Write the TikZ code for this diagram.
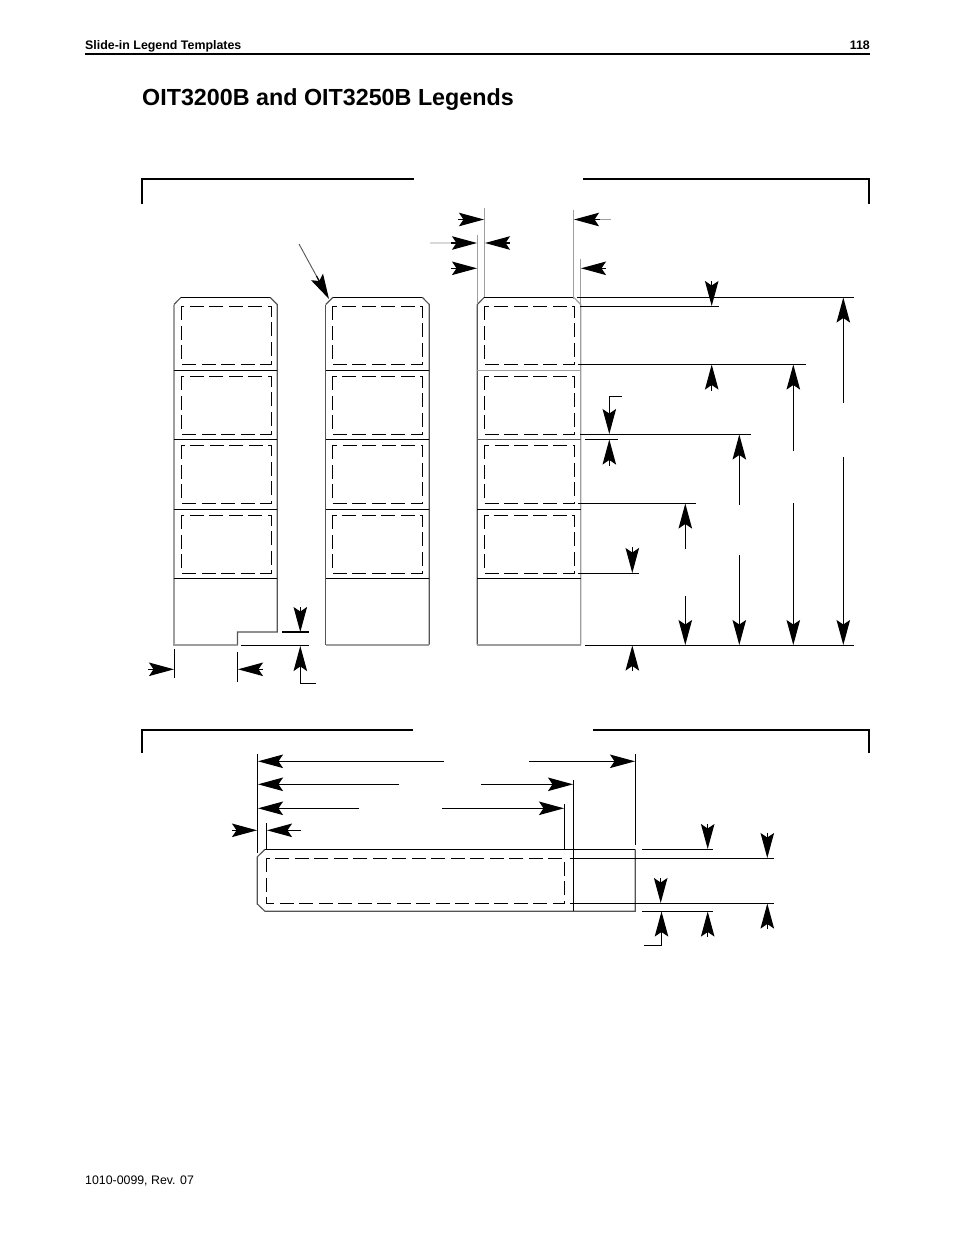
\documentclass[tikz,border=0pt]{standalone}
\usepackage{fontspec}
\setmainfont{Liberation Sans}
\usetikzlibrary{arrows.meta}
\definecolor{dk}{gray}{0.33}
\definecolor{md}{gray}{0.62}
\definecolor{lt}{gray}{0.85}
\tikzset{
  ln/.style={line width=1.15pt,black},
  ar/.style={ln,-{Stealth[length=25pt,width=13.5pt,inset=4.5pt]}},
  hd/.style={line width=2pt,black},
  br/.style={line width=2.2pt,black,line cap=rect},
  dsh/.style={line width=1.15pt,black,dash pattern=on 14pt off 5.5pt},
  edge/.style={line width=1.15pt,dk},
  edgel/.style={line width=1.6pt,md},
  ext/.style={line width=1.15pt,md},
  txt/.style={inner sep=0pt,anchor=base west,text=black}
}
\newcommand{\dashrects}[2]{%
  \foreach \t/\b in {306.3/364.3,376.3/434.3,445.3/503.5,515.3/573.3}
    \draw[dsh] (#1,\t) rectangle (#2,\b);}
\begin{document}
\begin{tikzpicture}[x=1pt,y=-1pt]
\useasboundingbox (0,0) rectangle (954,1235);
\fill[white] (0,0) rectangle (954,1235);
% header / footer
\node[txt,font=\bfseries\fontsize{12.4}{14}\selectfont] (hdrl) at (85,49.5) {Slide-in Legend Templates};
\node[inner sep=0pt,anchor=base east,font=\bfseries\fontsize{12.4}{14}\selectfont] (hdrr) at (870,49.5) {118};
\draw[hd] (85,53.5) -- (870,53.5);
\node[txt,font=\bfseries\fontsize{23.3}{27}\selectfont] (title) at (142,105) {OIT3200B and OIT3250B Legends};
\node[txt,font=\fontsize{12.35}{14}\selectfont] (foot) at (85,1184) {1010-0099, Rev. 07};
% brackets
\draw[br] (142,203) -- (142,179) -- (413,179);
\draw[br] (584,179) -- (869,179) -- (869,203);
\draw[br] (142,752) -- (142,730) -- (412,730);
\draw[br] (594,730) -- (869,730) -- (869,752);
% strip 1
\draw[edgel] (174,304.5) -- (174,644.7) -- (237.5,644.7) -- (237.5,632);
\draw[edge] (174,304.5) -- (181,297.3);
\draw[ln] (181,297.3) -- (270,297.3);
\draw[edge] (270,297.3) -- (277.3,304.5) -- (277.3,632) -- (237.5,632) -- (237.5,644.7);
\foreach \y in {370.3,439.5,509.3,578.3} \draw[ln] (174,\y) -- (277.3,\y);
\dashrects{181.7}{271.3}
% strip 2
\draw[edge] (325.7,304.5) -- (325.7,644.7);
\draw[edgel] (325.7,644.7) -- (429.3,644.7);
\draw[edge] (429.3,644.7) -- (429.3,304.5) -- (422.3,297.3);
\draw[ln] (422.3,297.3) -- (333,297.3);
\draw[edge] (333,297.3) -- (325.7,304.5);
\foreach \y in {370.3,439.5,509.3,578.3} \draw[ln] (325.7,\y) -- (429.3,\y);
\dashrects{332.3}{422.7}
% strip 3
\draw[edge] (477.3,644.7) -- (477.3,304.5) -- (484.3,297.3);
\draw[ln] (484.3,297.3) -- (573.7,297.3);
\draw[ext] (573.7,297.3) -- (580.7,304.5) -- (580.7,644.7);
\draw[edgel] (477.3,644.7) -- (580.7,644.7);
\draw[ext,line width=1.3pt] (477.3,370.3) -- (580.7,370.3);
\draw[edge] (477.3,439.5) -- (580.7,439.5);
\foreach \y in {509.3,578.3} \draw[ln] (477.3,\y) -- (580.7,\y);
\dashrects{484.3}{574.7}
% strip 3 top extension lines and arrows
\draw[ext] (484.3,208) -- (484.3,297);
\draw[ext] (477.3,235) -- (477.3,304);
\draw[ext] (573.7,210) -- (573.7,299);
\draw[ext] (580.7,259) -- (580.7,304);
\draw[ar] (458,219.5) -- (484,219.5);
\draw[ext] (611,219.5) -- (590,219.5);
\draw[ar] (600,219.5) -- (574,219.5);
\draw[lt,line width=1.5pt] (430,243) -- (455,243);
\draw[ar] (451,243) -- (477,243);
\draw[ar] (510,243) -- (485,243);
\draw[ar] (451,268.3) -- (477,268.3);
\draw[ar] (606,268.3) -- (581,268.3);
% leader
\draw[line width=0.9pt,dk] (299,244) -- (320,282.5);
\draw[ar] (316.5,276) -- (329,299);
% horizontal extensions
\draw[ln] (577,297.3) -- (854,297.3);
\draw[ln] (580,306.3) -- (719,306.3);
\draw[ln] (578,364.3) -- (806,364.3);
\draw[ln] (580,434.3) -- (751,434.3);
\draw[ln] (585,439.3) -- (618,439.3);
\draw[ln] (578,503.4) -- (696,503.4);
\draw[ln] (578,573.3) -- (639,573.3);
\draw[line width=1.4pt] (585,645.2) -- (854,645.2);
% vertical dimensions
\draw[ar] (711.7,281) -- (711.7,306);
\draw[ar] (711.7,391) -- (711.7,364.5);
\draw[ar] (621.7,396.7) -- (609.3,396.7) -- (609.3,434);
\draw[ar] (609.3,466) -- (609.3,439.5);
\draw[ar] (632.3,547) -- (632.3,573);
\draw[ar] (632.3,671) -- (632.3,645.5);
\draw[ar] (685.3,549) -- (685.3,503.5);
\draw[ar] (685.3,596) -- (685.3,645);
\draw[ar] (739.3,505) -- (739.3,434.5);
\draw[ar] (739.3,555) -- (739.3,645);
\draw[ar] (793.3,451) -- (793.3,364.5);
\draw[ar] (793.3,503) -- (793.3,645);
\draw[ar] (843.3,403) -- (843.3,297.5);
\draw[ar] (843.3,457) -- (843.3,645);
% notch dimensions
\draw[ln] (174.3,649) -- (174.3,678);
\draw[ln] (237.4,652) -- (237.4,682);
\draw[ar] (148,669.3) -- (174,669.3);
\draw[ar] (263,669.3) -- (238,669.3);
\draw[ln] (282,632) -- (309,632);
\draw[ln] (241,645.3) -- (309,645.3);
\draw[ar] (300.3,607) -- (300.3,632);
\draw[ar] (315.7,683.3) -- (300.3,683.3) -- (300.3,646);
% lower strip
\draw[edge] (265,849.3) -- (257.3,856.8) -- (257.3,904) -- (265,911.3) -- (635.3,911.3) -- (635.3,849.3);
\draw[ln] (265,849.3) -- (635.3,849.3);
\draw[dsh] (266.3,858.3) rectangle (564.3,903.3);
% lower extensions
\draw[ln] (257.3,754) -- (257.3,853);
\draw[ln] (635.2,754) -- (635.2,845);
\draw[ln] (573.3,780) -- (573.3,911);
\draw[ln] (564.3,804) -- (564.3,850);
\draw[ln] (266.3,823) -- (266.3,850);
\draw[ar] (444,761.3) -- (258,761.3);
\draw[ar] (529,761.3) -- (635,761.3);
\draw[ar] (399,784.3) -- (258,784.3);
\draw[ar] (481,784.3) -- (573,784.3);
\draw[ar] (359,808.3) -- (258,808.3);
\draw[ar] (442,808.3) -- (564,808.3);
\draw[ar] (232,830.3) -- (257,830.3);
\draw[ar] (301,830.3) -- (267,830.3);
\draw[ln] (642,849.3) -- (713,849.3);
\draw[ln] (570,858.3) -- (774,858.3);
\draw[ln] (570,903.3) -- (774,903.3);
\draw[ln] (642,911.3) -- (713,911.3);
\draw[ar] (707.7,824) -- (707.7,849);
\draw[ar] (707.7,937) -- (707.7,911.5);
\draw[ar] (767.3,832.5) -- (767.3,858);
\draw[ar] (767.3,929) -- (767.3,903.5);
\draw[ar] (660.7,878) -- (660.7,903);
\draw[ar] (644,945.3) -- (661.5,945.3) -- (661.5,911.5);
\end{tikzpicture}
\end{document}
